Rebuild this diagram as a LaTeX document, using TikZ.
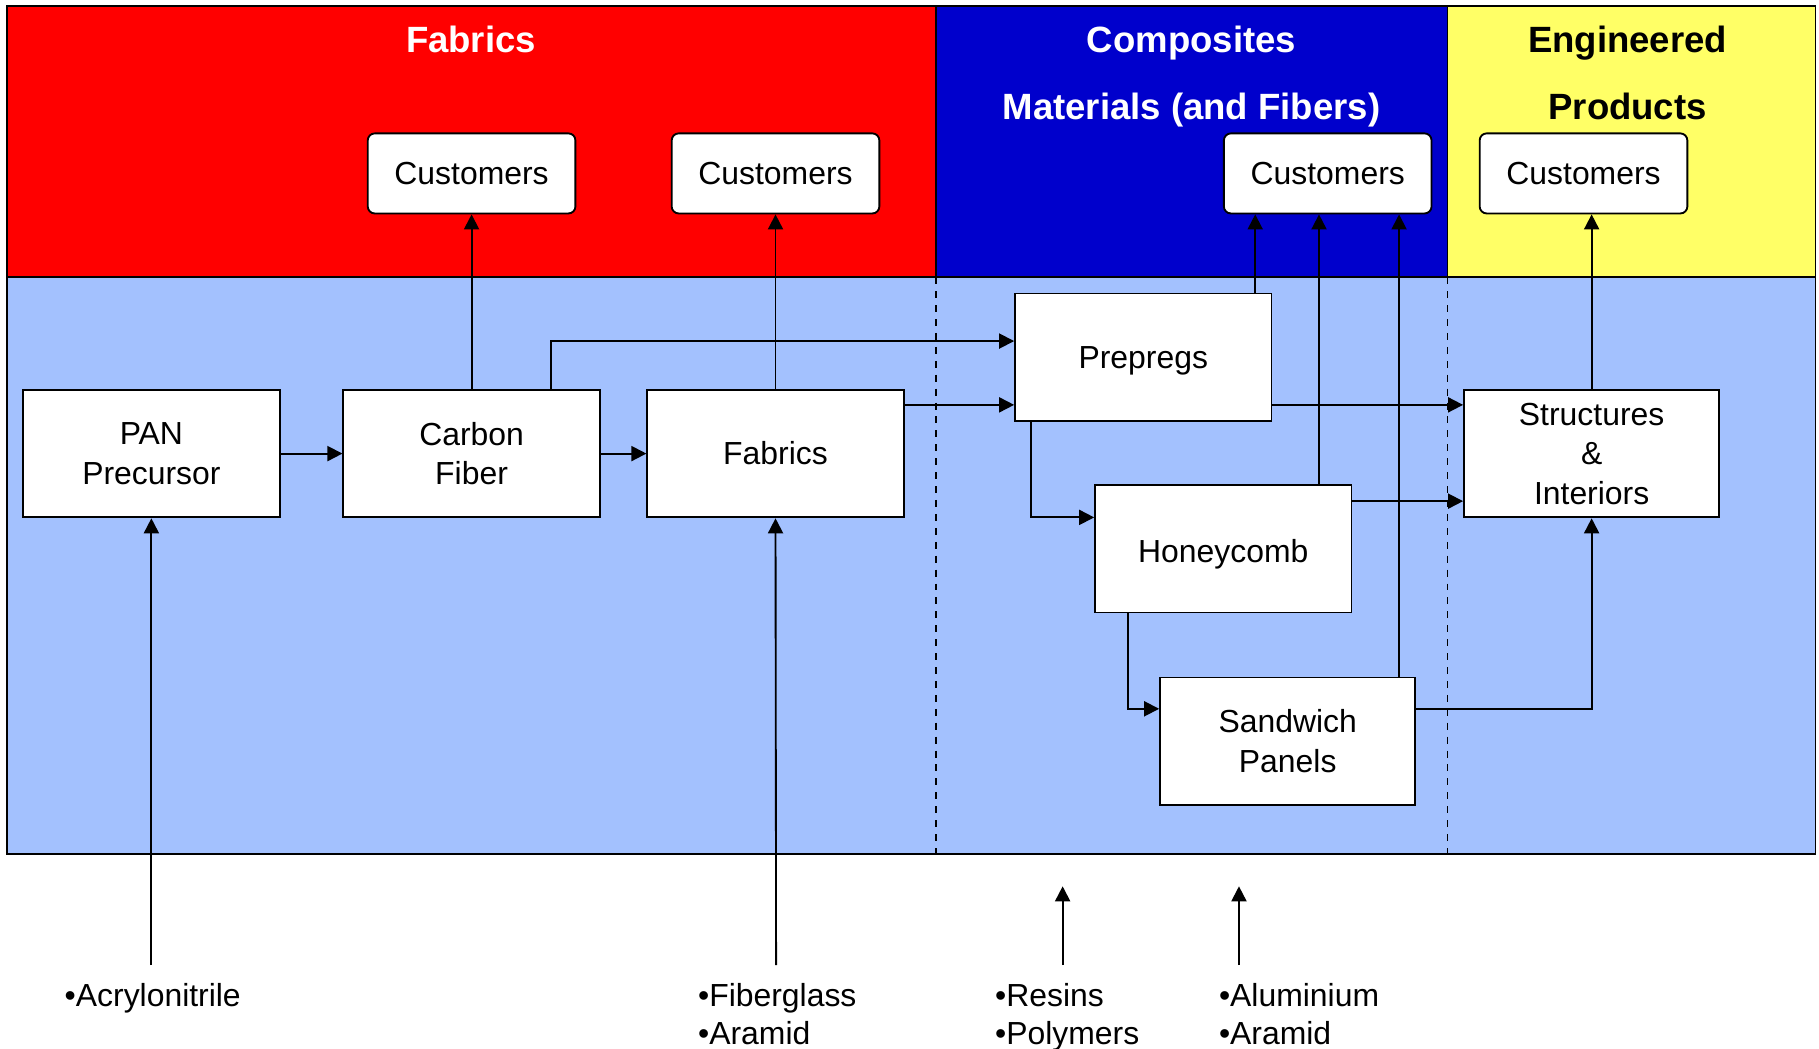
\documentclass[tikz,border=0pt]{standalone}
\usepackage{fontspec}
\setmainfont{Liberation Sans}
\usetikzlibrary{arrows.meta}
\definecolor{redband}{HTML}{FF0000}
\definecolor{blueband}{HTML}{0000CC}
\definecolor{yellowband}{HTML}{FFFF66}
\definecolor{lightband}{HTML}{A3C1FE}
\begin{document}
\begin{tikzpicture}[x=1pt,y=-1pt, line width=1.6pt,
  box/.style={draw=black, fill=white, line width=1.6pt, minimum width=221pt, minimum height=110pt, align=center, inner sep=0pt, font=\fontsize{27.5}{34}\selectfont},
  cust/.style={draw=black, fill=white, line width=1.6pt, rounded corners=6pt, minimum width=179pt, minimum height=69pt, inner sep=0pt, font=\fontsize{27.5}{34}\selectfont},
  ttl/.style={anchor=base, inner sep=0pt, font=\fontsize{31.5}{34}\selectfont\bfseries},
  lbl/.style={anchor=base west, inner sep=0pt, font=\fontsize{27.5}{32}\selectfont},
  arr/.style={draw=black, line width=1.6pt, -{Triangle[length=13pt,width=13pt]}},
  sep/.style={draw=black, line width=1.2pt, dash pattern=on 6pt off 6pt}]
\useasboundingbox (0,0) rectangle (1568,904.2);
% bands
\fill[redband] (6,5) rectangle (807,239);
\fill[blueband] (807,5) rectangle (1248,239);
\fill[yellowband] (1248,5) rectangle (1565,239);
\fill[lightband] (6,239) rectangle (1565,736);
\draw[line width=1.6pt] (6,5) rectangle (1565,736);
\draw[line width=1.6pt] (6,239) -- (1565,239);
\draw[line width=1.2pt] (807,5) -- (807,239);
\draw[line width=1.2pt] (1248,5) -- (1248,239);
\draw[sep] (807,239) -- (807,736);
\draw[sep] (1248,239) -- (1248,736);
% titles
\node[ttl, text=white] (tfab) at (406,45) {Fabrics};
\node[ttl, text=white] (tcomp1) at (1027,45) {Composites};
\node[ttl, text=white] (tcomp2) at (1027,103) {Materials (and Fibers)};
\node[ttl, text=black] (teng1) at (1403,45) {Engineered};
\node[ttl, text=black] (teng2) at (1403,103) {Products};
% customers
\node[cust] (c1) at (406.5,149.5) {Customers};
\node[cust] (c2) at (668.5,149.5) {Customers};
\node[cust] (c3) at (1144.5,149.5) {Customers};
\node[cust] (c4) at (1365,149.5) {Customers};
% process boxes
\node[box] (pan) at (130.5,391) {PAN\\Precursor};
\node[box] (carbon) at (406.5,391) {Carbon\\Fiber};
\node[box] (fab) at (668.5,391) {Fabrics};
\node[box] (prep) at (985.5,308) {\raisebox{0pt}[\height][0pt]{Prepregs}};
\node[box] (honey) at (1054.5,473) {\raisebox{-2pt}[\height][0pt]{Honeycomb}};
\node[box, minimum width=220pt] (sand) at (1110,639) {Sandwich\\Panels};
\node[box, minimum width=220pt] (struct) at (1372,391) {Structures\\\&\\Interiors};
% connectors
\draw[arr] (pan) -- (carbon);
\draw[arr] (carbon) -- (fab);
\draw[arr] (carbon.north) -- (c1.south);
\draw[arr] ([xshift=68.5pt]carbon.north) |- ([yshift=14pt]prep.west);
\draw[arr] (fab.north) -- (c2.south);
\draw[arr] ([yshift=42pt]fab.east) -- ([yshift=42pt]fab.east -| prep.west);
\draw[arr] ([xshift=96.5pt]prep.north) -- ([xshift=96.5pt]prep.north |- c3.south);
\draw[arr] ([xshift=82.5pt]honey.north) -- ([xshift=82.5pt]honey.north |- c3.south);
\draw[arr] ([xshift=96pt]sand.north) -- ([xshift=96pt]sand.north |- c3.south);
\draw[arr] ([yshift=-41pt]prep.east) -- ([yshift=-41pt]prep.east -| struct.west);
\draw[arr] ([yshift=41pt]honey.east) -- ([yshift=41pt]honey.east -| struct.west);
\draw[arr] ([xshift=-96.5pt]prep.south) |- ([yshift=27pt]honey.west);
\draw[arr] ([xshift=-82.5pt]honey.south) |- ([yshift=28pt]sand.west);
\draw[arr] ([yshift=28pt]sand.east) -| (struct.south);
\draw[arr] (struct.north) -- (struct.north |- c4.south);
% raw materials
\coordinate (acr) at (130.5,832);
\coordinate (fib) at (669,832);
\coordinate (res) at (916,832);
\coordinate (resend) at (916,764);
\coordinate (alu) at (1068,832);
\coordinate (aluend) at (1068,764);
\draw[arr] (acr) -- (pan.south);
\draw[arr] (fib) -- (fab.south);
\draw[arr] (res) -- (resend);
\draw[arr] (alu) -- (aluend);
\node[lbl] (l1) at (55,868) {•Acrylonitrile};
\node[lbl] (l2a) at (601,868) {•Fiberglass};
\node[lbl] (l2b) at (601,900) {•Aramid};
\node[lbl] (l3a) at (857,868) {•Resins};
\node[lbl] (l3b) at (857,900) {•Polymers};
\node[lbl] (l4a) at (1050,868) {•Aluminium};
\node[lbl] (l4b) at (1050,900) {•Aramid};
\end{tikzpicture}
\end{document}
